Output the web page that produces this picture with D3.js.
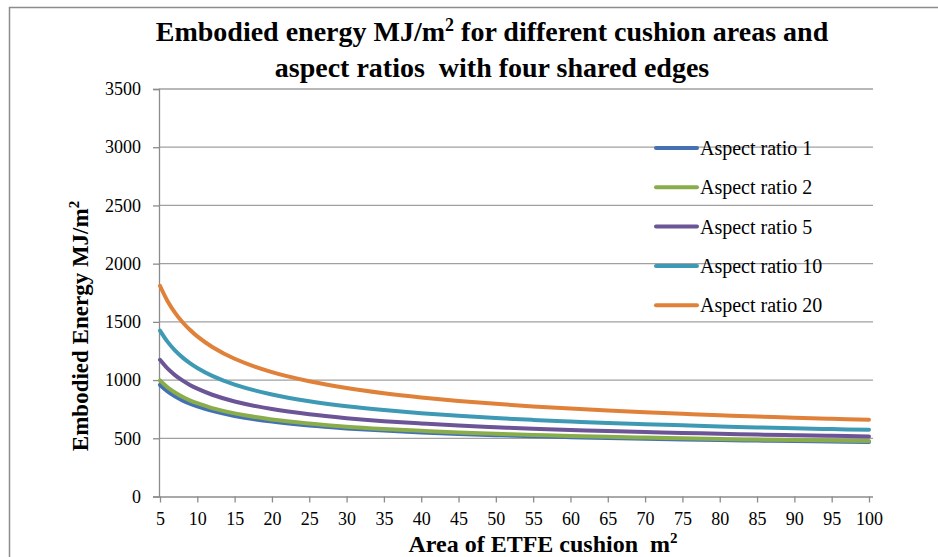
<!DOCTYPE html>
<html>
<head>
<meta charset="utf-8">
<script src="https://cdn.jsdelivr.net/npm/d3@7"></script>
<style>
  body { margin: 0; background: #fff; }
  svg, svg text { font-family: "Liberation Serif", "Times New Roman", serif; }
</style>
</head>
<body>
<script>
var width = 938, height = 557;

// cushion area (m2)
var areas = [5, 6, 7, 8, 9, 10, 12, 15, 20, 25, 30, 35, 40, 45, 50, 55, 60, 65, 70, 75, 80, 85, 90, 95, 100];
var xTicks = [5, 10, 15, 20, 25, 30, 35, 40, 45, 50, 55, 60, 65, 70, 75, 80, 85, 90, 95, 100];
var yTicks = [0, 500, 1000, 1500, 2000, 2500, 3000, 3500];

var seriesNames = ["Aspect ratio 1", "Aspect ratio 2", "Aspect ratio 5", "Aspect ratio 10", "Aspect ratio 20"];
var seriesColors = ["#4471b2", "#8aad4c", "#6c5596", "#3e9ab4", "#e0813a"];

// embodied energy MJ/m2
var ratio1  = [958, 903, 861, 826, 798, 774, 735, 692, 643, 609, 585, 566, 550, 537, 527, 517, 509, 502, 496, 490, 485, 480, 476, 472, 468];
var ratio2  = [997, 938, 893, 856, 826, 801, 759, 714, 662, 627, 600, 580, 564, 550, 539, 529, 520, 513, 506, 500, 494, 489, 485, 481, 477];
var ratio5  = [1174, 1100, 1043, 997, 958, 926, 874, 816, 751, 706, 673, 647, 627, 609, 595, 582, 572, 562, 553, 546, 539, 532, 527, 521, 516];
var ratio10 = [1425, 1330, 1255, 1195, 1146, 1104, 1036, 961, 876, 818, 775, 742, 715, 693, 674, 658, 644, 632, 621, 611, 602, 593, 586, 579, 573];
var ratio20 = [1810, 1680, 1580, 1499, 1432, 1375, 1284, 1183, 1068, 990, 932, 887, 851, 821, 796, 774, 755, 738, 723, 710, 698, 687, 676, 667, 659];
var allSeries = [ratio1, ratio2, ratio5, ratio10, ratio20];

var serif = "'Liberation Serif', 'Times New Roman', serif";

var svg = d3.select("body").append("svg")
    .attr("width", width)
    .attr("height", height);

svg.append("rect").attr("width", width).attr("height", height).attr("fill", "#fff");

// chart border (runs off the picture on the right and bottom)
svg.append("rect")
    .attr("x", 9.5).attr("y", 7.5)
    .attr("width", 960).attr("height", 580)
    .attr("fill", "none")
    .attr("stroke", "#8c8c8c")
    .attr("stroke-width", 1.5);

var x = d3.scaleLinear().domain([5, 100]).range([160, 869]);
var y = d3.scaleLinear().domain([0, 3500]).range([496.5, 89]);

// gridlines
svg.append("g").selectAll("line")
    .data(yTicks.slice(1))
    .enter().append("line")
    .attr("x1", 159).attr("x2", 873)
    .attr("y1", function(d) { return y(d); })
    .attr("y2", function(d) { return y(d); })
    .attr("stroke", "#a0a0a0")
    .attr("stroke-width", 1.3);

// y axis
var yAxis = svg.append("g")
    .attr("transform", "translate(159,0)")
    .call(d3.axisLeft(y).tickValues(yTicks).tickFormat(d3.format("d")).tickSize(6).tickPadding(12));
yAxis.attr("font-family", serif).attr("font-size", 18);
yAxis.select(".domain").attr("stroke", "#8c8c8c").attr("stroke-width", 1.3);
yAxis.selectAll(".tick line").attr("stroke", "#8c8c8c").attr("stroke-width", 1.3);
yAxis.selectAll("text").style("font-family", serif).attr("fill", "#000");

// x axis
var xAxis = svg.append("g")
    .attr("transform", "translate(0," + y(0) + ")")
    .call(d3.axisBottom(x).tickValues(xTicks).tickFormat(d3.format("d")).tickSize(6).tickSizeOuter(0).tickPadding(10));
xAxis.attr("font-family", serif).attr("font-size", 18);
xAxis.select(".domain").attr("stroke", "#8c8c8c").attr("stroke-width", 1.3)
    .attr("d", "M159,0.5H873");
xAxis.selectAll(".tick line").attr("stroke", "#8c8c8c").attr("stroke-width", 1.3);
xAxis.selectAll("text").style("font-family", serif).attr("fill", "#000");

// curves
var line = d3.line()
    .x(function(d, i) { return x(areas[i]); })
    .y(function(d) { return y(d); })
    .curve(d3.curveCatmullRom.alpha(0.5));

svg.append("g").selectAll("path")
    .data(allSeries)
    .enter().append("path")
    .attr("d", line)
    .attr("fill", "none")
    .attr("stroke", function(d, i) { return seriesColors[i]; })
    .attr("stroke-width", 4)
    .attr("stroke-linecap", "round")
    .attr("stroke-linejoin", "round");

// legend
var legend = svg.append("g").selectAll("g")
    .data(seriesNames)
    .enter().append("g")
    .attr("transform", function(d, i) { return "translate(656," + (148 + i * 39.3) + ")"; });
legend.append("line")
    .attr("x1", 0).attr("x2", 41)
    .attr("stroke", function(d, i) { return seriesColors[i]; })
    .attr("stroke-width", 4)
    .attr("stroke-linecap", "round");
legend.append("text")
    .attr("x", 44).attr("dy", "0.35em")
    .attr("font-size", 20)
    .text(function(d) { return d; });

// title
var title = svg.append("text")
    .attr("text-anchor", "middle")
    .attr("font-weight", "bold")
    .attr("font-size", 28);
title.append("tspan").attr("x", 492).attr("y", 41).text("Embodied energy MJ/m");
title.append("tspan").attr("dy", -10).attr("font-size", 18).text("2");
title.append("tspan").attr("dy", 10).text(" for different cushion areas and");
title.append("tspan").attr("x", 492).attr("y", 77).style("white-space", "pre").text("aspect ratios  with four shared edges");

// axis titles
var yTitle = svg.append("text")
    .attr("transform", "translate(88,326) rotate(-90)")
    .attr("text-anchor", "middle")
    .attr("font-weight", "bold")
    .attr("font-size", 23);
yTitle.append("tspan").text("Embodied Energy MJ/m");
yTitle.append("tspan").attr("dy", -9).attr("font-size", 15).text("2");

var xTitle = svg.append("text")
    .attr("x", 543).attr("y", 552)
    .attr("text-anchor", "middle")
    .attr("font-weight", "bold")
    .attr("font-size", 24)
    .style("white-space", "pre");
xTitle.append("tspan").text("Area of ETFE cushion  m");
xTitle.append("tspan").attr("dy", -9).attr("font-size", 15).text("2");
</script>
</body>
</html>
